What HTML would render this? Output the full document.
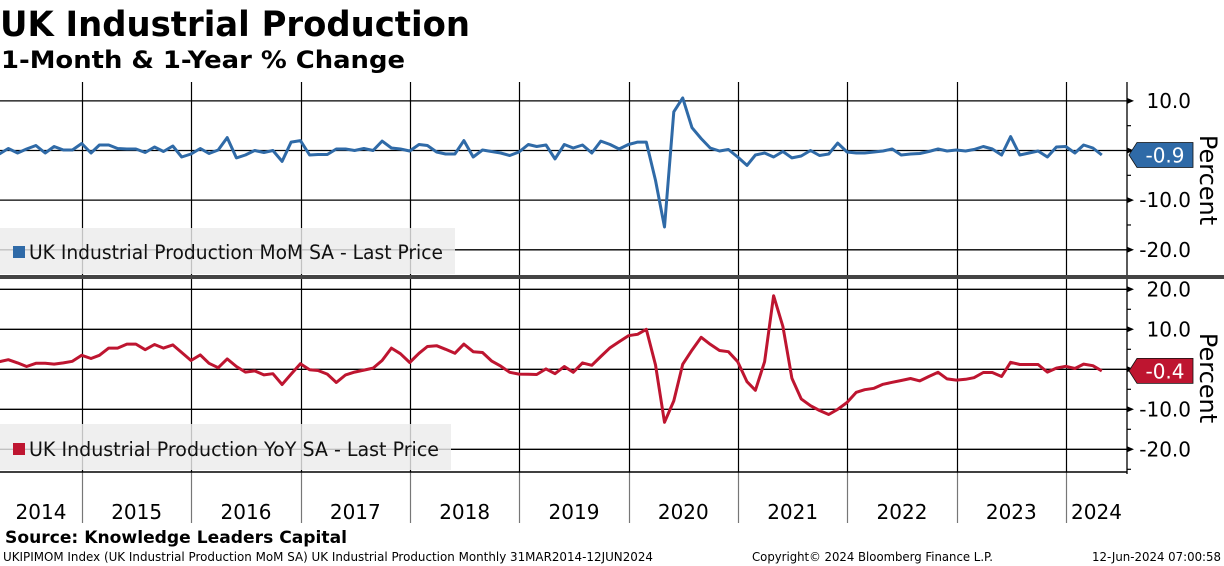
<!DOCTYPE html>
<html><head><meta charset="utf-8"><style>
html,body{margin:0;padding:0;background:#fff;}
svg{display:block;font-family:"DejaVu Sans","Liberation Sans",sans-serif;}
</style></head><body>
<svg id="chart" width="1224" height="566" viewBox="0 0 1224 566" xmlns="http://www.w3.org/2000/svg">
<text x="0" y="36" font-size="35" font-weight="bold" textLength="470" lengthAdjust="spacingAndGlyphs">UK Industrial Production</text>
<text x="1" y="68" font-size="24" font-weight="bold" textLength="404" lengthAdjust="spacingAndGlyphs">1-Month &amp; 1-Year % Change</text>
<g id="grid"></g>
<g id="legends"></g>
<g id="series"></g>
<g id="axes"></g>
<rect x="0" y="275" width="1224" height="4" fill="#444"/>
<text x="5" y="543" font-size="17" font-weight="bold" textLength="342" lengthAdjust="spacingAndGlyphs">Source: Knowledge Leaders Capital</text>
<text x="3" y="561" font-size="12" textLength="650" lengthAdjust="spacingAndGlyphs">UKIPIMOM Index (UK Industrial Production MoM SA) UK Industrial Production  Monthly 31MAR2014-12JUN2024</text>
<text x="752" y="561" font-size="12" textLength="241" lengthAdjust="spacingAndGlyphs">Copyright© 2024 Bloomberg Finance L.P.</text>
<text x="1092" y="561" font-size="12" textLength="129" lengthAdjust="spacingAndGlyphs">12-Jun-2024 07:00:58</text>
</svg>
<script>
const years = [2014,2015,2016,2017,2018,2019,2020,2021,2022,2023,2024];
const momValues = [
-0.7,0.4,-0.5,0.3,1.0,-0.5,0.8,0.1,0.1,1.4,
-0.5,1.1,1.1,0.4,0.3,0.3,-0.4,0.7,-0.2,0.9,-1.3,-0.7,
0.4,-0.6,0.1,2.6,-1.5,-0.9,0,-0.4,0,-2.2,1.7,2.0,
-0.9,-0.8,-0.8,0.3,0.3,0,0.4,0,1.9,0.5,0.3,-0.1,
1.2,1.0,-0.3,-0.7,-0.7,2.0,-1.3,0.1,-0.2,-0.5,-1.0,-0.3,
1.2,0.8,1.1,-1.7,1.2,0.5,1.1,-0.5,1.9,1.2,0.3,1.2,
1.7,1.7,-6.0,-15.4,7.8,10.6,4.6,2.4,0.5,-0.1,0.2,-1.3,
-3.0,-0.9,-0.5,-1.3,-0.2,-1.5,-1.1,0,-1.0,-0.7,1.5,-0.3,
-0.5,-0.5,-0.3,-0.1,0.3,-0.9,-0.7,-0.6,-0.2,0.3,-0.1,0.1,
-0.1,0.2,0.8,0.3,-0.9,2.8,-0.9,-0.5,-0.1,-1.3,0.7,0.8,
-0.5,1.1,0.5,-0.9];
const yoyValues = [
1.9,2.4,1.6,0.7,1.5,1.5,1.3,1.6,2.0,3.5,
2.7,3.5,5.3,5.3,6.3,6.3,4.9,6.2,5.3,6.1,4.2,2.2,
3.6,1.5,0.4,2.6,0.7,-0.7,-0.4,-1.4,-1.1,-3.8,-1.2,1.4,
-0.1,-0.3,-1.2,-3.3,-1.4,-0.7,-0.2,0.3,2.2,5.3,3.9,1.7,
4.0,5.7,5.9,5.0,4.0,6.3,4.4,4.2,2.1,0.8,-0.75,-1.2,
-1.25,-1.3,0.1,-1.1,0.7,-0.75,1.6,1.0,3.2,5.4,6.9,8.4,
8.75,10.0,1.1,-13.25,-7.9,1.25,4.8,8.0,6.25,4.7,4.4,1.9,
-3.1,-5.25,1.9,18.4,10.7,-2.25,-7.4,-9.1,-10.3,-11.3,-10.0,-8.3,
-5.75,-5.1,-4.75,-3.75,-3.25,-2.8,-2.3,-2.9,-1.8,-0.75,-2.4,-2.7,
-2.5,-2.1,-0.8,-0.8,-1.8,1.75,1.2,1.2,1.2,-0.7,0.3,0.75,
0.2,1.3,0.9,-0.4];
const topTicks = [10,-10,-20];
const topGrid = [10,0,-10,-20];
const topMinor = [15,5,-5,-15,-25];
const botTicks = [20,10,-10,-20];
const botGrid = [20,10,0,-10,-20];
const botMinor = [15,5,-5,-15,-25];
const startYear = 2014, startMonth = 2; // March 2014 (0-based)

const NS='http://www.w3.org/2000/svg';
function mk(tag, attrs, parent){const e=document.createElementNS(NS,tag);for(const k in attrs)e.setAttribute(k,attrs[k]);parent.appendChild(e);return e;}
const PX_PER_YEAR=109.33, X2015=82, AXIS_X=1127;
function xDate(y,m,d){
  const t=Date.UTC(y,m,d), t0=Date.UTC(y,0,1), t1=Date.UTC(y+1,0,1);
  return X2015+(y-2015+(t-t0)/(t1-t0))*PX_PER_YEAR;
}
function xMonth(i){const m=startMonth+i;const y=startYear+Math.floor(m/12);const mm=m%12;return xDate(y,mm+1,0);}
function yTop(v){return 150.5-v*4.965;}
function yBot(v){return 369.3-v*4.0;}

const grid=document.getElementById('grid');
topGrid.forEach(v=>{const l=mk('line',{x1:0,x2:AXIS_X,y1:yTop(v),y2:yTop(v),stroke:'#000','stroke-width':1.3},grid);
});
botGrid.forEach(v=>{const l=mk('line',{x1:0,x2:AXIS_X,y1:yBot(v),y2:yBot(v),stroke:'#000','stroke-width':1.3},grid);
});
years.slice(1).forEach(y=>{const x=Math.round(xDate(y,0,1))+0.5;
const l=mk('line',{x1:x,x2:x,y1:82,y2:472,stroke:'#000','stroke-width':1.2},grid);

const s=mk('line',{x1:x,x2:x,y1:472,y2:523,stroke:'#777','stroke-width':1.2},grid);
});
const bb=mk('line',{x1:0,x2:AXIS_X,y1:472,y2:472,stroke:'#000','stroke-width':1.5},grid);


years.forEach((y,i)=>{const a=i===0?0:xDate(y,0,1);const b=i===years.length-1?AXIS_X:xDate(y+1,0,1);
const t=mk('text',{x:(Math.max(a,0)+b)/2,y:519,'font-size':20,'text-anchor':'middle'},grid);t.textContent=y;
});

const lg=document.getElementById('legends');
[[228,'#2f6aa7','UK Industrial Production MoM SA - Last Price',455,'legend-mom',259],[424,'#be1530','UK Industrial Production YoY SA - Last Price',451,'legend-yoy',456]].forEach(d=>{
const g=mk('g',{},lg);
mk('rect',{x:0,y:d[0],width:d[3],height:46,fill:'#ececec','fill-opacity':0.82},g);
mk('rect',{x:13,y:d[5]-13,width:12,height:12,fill:d[1]},g);
const t=mk('text',{x:29,y:d[5],'font-size':19.5,fill:'#111',textLength:d[3]-41,lengthAdjust:'spacingAndGlyphs'},g);t.textContent=d[2];});

const sg=document.getElementById('series');
function path(vals,fy){return vals.map((v,i)=>(i?'L':'M')+xMonth(i).toFixed(1)+','+fy(v).toFixed(1)).join('');}
const p1=mk('path',{d:path(momValues,yTop),fill:'none',stroke:'#2f6aa7','stroke-width':3,'stroke-linejoin':'round'},sg);

const p2=mk('path',{d:path(yoyValues,yBot),fill:'none',stroke:'#be1530','stroke-width':3,'stroke-linejoin':'round'},sg);


const ax=document.getElementById('axes');
const al=mk('line',{x1:AXIS_X,x2:AXIS_X,y1:82,y2:474,stroke:'#000','stroke-width':1.3},ax);

function ticks(maj,minr,fy,name){
 maj.forEach(v=>{const y=fy(v);
  mk('path',{d:`M${AXIS_X},${y-3}L${AXIS_X+7},${y}L${AXIS_X},${y+3}Z`,fill:'#000'},ax);
  const t=mk('text',{x:1191,y:y+7,'font-size':20,'text-anchor':'end'},ax);t.textContent=v.toFixed(1);
  });
 minr.forEach(v=>{const y=fy(v);mk('line',{x1:AXIS_X,x2:AXIS_X+4,y1:y,y2:y,stroke:'#000','stroke-width':1.2},ax);});
}
ticks(topTicks,topMinor.filter(v=>yTop(v)<273&&yTop(v)>84),yTop,'top-axis');
ticks(botTicks,botMinor.filter(v=>yBot(v)<474&&yBot(v)>282),yBot,'bottom-axis');
mk('path',{d:`M${AXIS_X},${yTop(0)-3}L${AXIS_X+7},${yTop(0)}L${AXIS_X},${yTop(0)+3}Z`,fill:'#000'},ax);
mk('path',{d:`M${AXIS_X},${yBot(0)-3}L${AXIS_X+7},${yBot(0)}L${AXIS_X},${yBot(0)+3}Z`,fill:'#000'},ax);
function tag(v,fy,color,name){const y=fy(v);
 const g=mk('g',{},ax);
 mk('path',{d:`M1129,${y}L1137,${y-12.5}L1193,${y-12.5}L1193,${y+12.5}L1137,${y+12.5}Z`,fill:color,stroke:'#111','stroke-width':0.8},g);
 const t=mk('text',{x:1165,y:y+7.5,'font-size':20,'text-anchor':'middle',fill:'#fff'},g);t.textContent=v.toFixed(1);}
tag(momValues[momValues.length-1],yTop,'#2f6aa7','mom-last-value-tag');
tag(yoyValues[yoyValues.length-1],yBot,'#be1530','yoy-last-value-tag');
[[180,'top-y-axis-title'],[378,'bottom-y-axis-title']].forEach(d=>{
 const t=mk('text',{x:0,y:0,'font-size':24,'text-anchor':'middle',transform:`translate(1200,${d[0]}) rotate(90)`},ax);t.textContent='Percent';
 });
</script>
</body></html>
